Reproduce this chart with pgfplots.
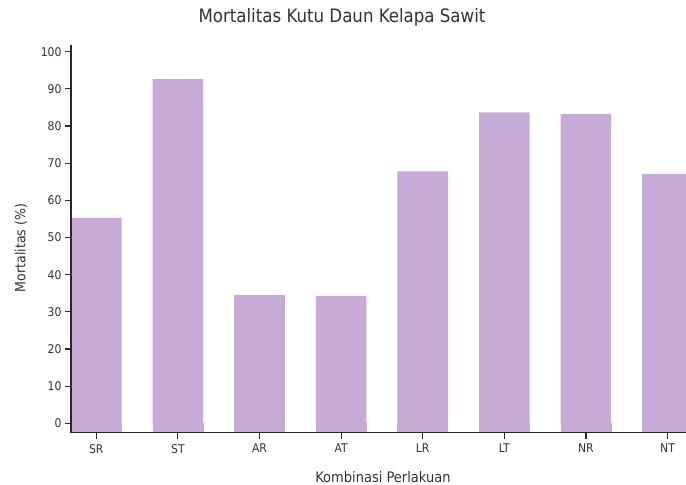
\documentclass[border=0pt]{standalone}
\usepackage{fontspec}
\setmainfont{DejaVu Sans Condensed}
\usepackage{pgfplots}
\pgfplotsset{compat=1.18}
\definecolor{barc}{RGB}{198,171,214}
\definecolor{axc}{RGB}{40,40,40}
\definecolor{txc}{RGB}{50,50,50}
\begin{document}
\begin{tikzpicture}[x=1pt,y=1pt]
\path[use as bounding box, clip] (0,0) rectangle (686,485);
\begin{axis}[
  at={(71pt,52.3pt)}, anchor=south west,
  scale only axis, width=621.8pt, height=387.7pt,
  xmin=-0.31, xmax=7.31, ymin=-2.5, ymax=101.8,
  axis on top,
  axis x line*=bottom, axis y line*=left,
  axis line style={axc, line width=1.5pt},
  xtick={0,...,7}, xticklabels={SR,ST,AR,AT,LR,LT,NR,NT},
  ytick={0,10,...,100},
  tick align=outside, major tick length=6pt,
  tick style={axc, line width=1.2pt},
  ticklabel style={font=\fontsize{12}{14}\selectfont, color=txc},
  xticklabel style={yshift=-2pt},
  /pgf/number format/assume math mode=true,
  ybar, bar width=50.6pt, bar shift=0pt,
]
\addplot[ybar, bar shift=0pt, bar width=50pt, fill=barc, draw=barc, line width=0.6pt] coordinates {
  (0,-2.4) (1,-2.4) (2,-2.4) (3,-2.4) (4,-2.4) (5,-2.4) (6,-2.4) (7,-2.4)};
\addplot[ybar, bar shift=0pt, fill=barc, draw=none] coordinates {
  (0,55.3) (1,92.6) (2,34.5) (3,34.3) (4,67.8) (5,83.7) (6,83.2) (7,67.1)};
\end{axis}
\node[font=\fontsize{18.5}{22}\selectfont, text=txc] at (342,468) {Mortalitas Kutu Daun Kelapa Sawit};
\node[font=\fontsize{14}{16}\selectfont, text=txc, rotate=90] at (21,237) {Mortalitas (\%)};
\node[font=\fontsize{14.5}{16}\selectfont, text=txc] at (383,8) {Kombinasi Perlakuan};
\end{tikzpicture}
\end{document}
